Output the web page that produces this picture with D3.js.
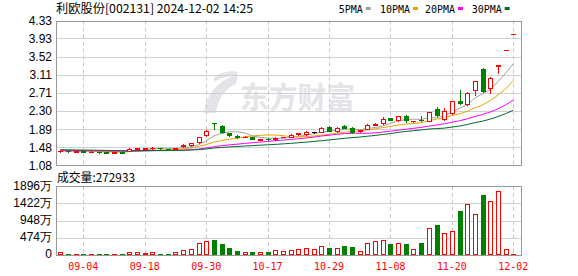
<!DOCTYPE html>
<html><head><meta charset="utf-8">
<script src="https://cdn.jsdelivr.net/npm/d3@7"></script>
<style>body{margin:0;background:#fff}svg{display:block}</style>
</head><body><svg id="c" width="578" height="276"></svg>
<script>
const dates = ["08-30","09-02","09-03","09-04","09-05","09-06","09-09","09-10","09-11","09-12","09-13","09-18","09-19","09-20","09-23","09-24","09-25","09-26","09-27","09-30",
"10-08","10-09","10-10","10-11","10-14","10-15","10-16","10-17","10-18","10-21","10-22","10-23","10-24","10-25","10-28","10-29","10-30","10-31","11-01",
"11-04","11-05","11-06","11-07","11-08","11-11","11-12","11-13","11-14","11-15","11-18","11-19","11-20","11-21","11-22","11-25","11-26","11-27","11-28","11-29","12-02"];
const opens  = [1.39,1.40,1.38,1.39,1.37,1.38,1.37,1.36,1.37,1.40,1.44,1.45,1.46,1.47,1.44,1.44,1.50,1.52,1.60,1.75,
2.03,1.96,1.79,1.74,1.71,1.71,1.65,1.67,1.66,1.71,1.72,1.78,1.77,1.82,1.83,1.94,1.85,1.96,1.91,
1.84,1.89,1.99,2.02,2.13,2.09,2.19,2.06,2.10,2.07,2.34,2.12,2.24,2.52,2.45,2.77,3.25,2.81,3.30,3.66,4.03];
const highs  = [1.41,1.40,1.40,1.39,1.39,1.38,1.38,1.38,1.37,1.46,1.47,1.47,1.48,1.47,1.45,1.47,1.55,1.58,1.71,1.87,
2.03,1.98,1.80,1.76,1.74,1.72,1.67,1.68,1.70,1.72,1.77,1.80,1.84,1.83,1.93,1.95,1.93,1.97,1.93,
1.87,2.00,2.03,2.15,2.14,2.19,2.20,2.08,2.18,2.28,2.39,2.37,2.52,2.77,2.72,2.97,3.26,3.05,3.33,3.66,4.03];
const lows   = [1.38,1.38,1.38,1.37,1.37,1.36,1.35,1.35,1.35,1.40,1.43,1.44,1.45,1.45,1.41,1.43,1.49,1.51,1.58,1.74,
1.90,1.80,1.73,1.69,1.70,1.66,1.64,1.65,1.65,1.70,1.71,1.76,1.76,1.79,1.82,1.84,1.83,1.91,1.81,
1.83,1.88,1.97,2.01,2.09,2.07,2.05,2.04,2.07,2.06,2.18,2.10,2.22,2.46,2.44,2.65,2.73,2.70,3.16,3.66,4.03];
const closes = [1.40,1.39,1.39,1.38,1.38,1.37,1.36,1.37,1.36,1.45,1.46,1.46,1.47,1.46,1.42,1.47,1.52,1.57,1.70,1.85,
2.02,1.82,1.75,1.70,1.72,1.67,1.67,1.66,1.68,1.72,1.76,1.79,1.82,1.82,1.92,1.85,1.91,1.92,1.83,
1.86,1.99,2.01,2.11,2.10,2.18,2.09,2.07,2.09,2.27,2.20,2.29,2.52,2.48,2.69,2.96,2.75,3.03,3.33,3.66,4.03];
// volume in 万
const volumes = [82,25,25,25,25,25,25,30,25,82,82,60,82,25,25,82,137,165,320,385,
412,302,192,110,73,82,73,91,137,110,137,157,184,157,239,192,192,239,220,
110,320,385,403,302,330,302,165,330,733,824,604,659,1209,1401,1127,1649,1484,1759,157,27.29];
// closes of the 29 sessions before the first shown one (seed the moving averages)
const priorCloses = [1.46,1.46,1.45,1.45,1.46,1.45,1.44,1.45,1.44,1.44,1.43,1.44,1.43,1.42,1.43,1.42,1.42,1.41,1.42,1.41,1.40,1.41,1.40,1.40,1.39,1.39,1.40,1.39,1.39];
const priceTicks = [1.08,1.48,1.89,2.30,2.71,3.11,3.52,3.93,4.33];
const volTicks = [0,474,948,1422,1896];
const volTickLabels = ["0","474万","948万","1422万","1896万"];
const xTickLabels = ["09-04","09-18","09-30","10-17","10-29","11-08","11-20","12-02"];
const maPeriods = [5,10,20,30];
const maNames = ["5PMA","10PMA","20PMA","30PMA"];
const maColors = ["#a0a0a0","#f0a000","#ff00ff","#006a30"];
const titleText = "利欧股份[002131] 2024-12-02 14:25";
const volTitle = "成交量:272933";

const RED="#ff0000", GREEN="#008000";
const svg = d3.select("#c");
const L=56, R=522, T1=20.5, B1=165, T2=186, B2=255;
const x = d3.scaleLinear().domain([0, dates.length-1]).range([60.3, 513.3]);
const y = d3.scaleLinear().domain([1.08,4.33]).range([B1,T1]);
const yv = d3.scaleLinear().domain([0,1896]).range([B2,T2]);
const px = v => Math.round(v)+0.5;

// watermark
const wm = svg.append("g").attr("fill","#e4e4e8");
wm.append("path").attr("d","M204,113 C206,95 218,80 238,74 L236,84 C226,88 218,98 216,113 Z");
wm.append("path").attr("d","M214,78 C220,72 230,70 238,72 L236,76 C228,76 220,78 214,82 Z");
wm.append("text").attr("x",240).attr("y",108).attr("font-family","Noto Sans CJK SC").attr("font-weight","bold")
  .attr("font-size",30).attr("textLength",115).attr("lengthAdjust","spacingAndGlyphs").text("东方财富");

// grids
const tickIdx = xTickLabels.map(l => dates.indexOf(l));
function grid(top, bottom, hvals, ys){
  svg.append("g").selectAll("line").data(hvals).join("line")
    .attr("x1",L).attr("x2",R).attr("y1",d=>px(ys(d))).attr("y2",d=>px(ys(d)))
    .attr("stroke","#d0d0d0");
  svg.append("g").selectAll("line").data(tickIdx).join("line")
    .attr("x1",d=>px(x(d))).attr("x2",d=>px(x(d))).attr("y1",top).attr("y2",bottom)
    .attr("stroke","#c8c8c8").attr("stroke-dasharray","4,3");
}
grid(T1,B1,priceTicks.slice(1,-1),y);
grid(T2,B2,volTicks.slice(1,-1),yv);

// MA lines
const allC = priorCloses.concat(closes);
const off = priorCloses.length;
maPeriods.forEach((n,k)=>{
  const ma = closes.map((c,i)=> d3.mean(allC.slice(off+i-n+1, off+i+1)));
  svg.append("path").attr("fill","none").attr("stroke",maColors[k]).attr("stroke-width",1)
    .attr("d", d3.line().x((d,i)=>x(i)).y(d=>y(d))(ma));
});

// candles
function col(i){
  const o=opens[i], c=closes[i];
  if(c>o) return RED; if(c<o) return GREEN;
  const pc = i>0?closes[i-1]:priorCloses[priorCloses.length-1];
  return c>pc?RED:(c<pc?GREEN:"#000");
}
const cg = svg.append("g");
dates.forEach((d,i)=>{
  const cx = Math.round(x(i)), cl = col(i);
  const yt = Math.round(y(Math.max(opens[i],closes[i]))), yb = Math.round(y(Math.min(opens[i],closes[i])));
  cg.append("line").attr("x1",cx+0.5).attr("x2",cx+0.5).attr("y1",Math.round(y(highs[i]))).attr("y2",Math.round(y(lows[i]))+1).attr("stroke",cl);
  if(yb-yt<1){
    cg.append("rect").attr("x",cx-2).attr("width",5).attr("y",yt).attr("height",1).attr("fill",cl);
  } else if(cl===RED){
    cg.append("rect").attr("x",cx-1.5).attr("width",4).attr("y",yt+0.5).attr("height",yb-yt).attr("fill","#fff").attr("stroke",RED);
  } else {
    cg.append("rect").attr("x",cx-2).attr("width",5).attr("y",yt).attr("height",yb-yt+1).attr("fill",cl);
  }
});

// volume bars
const vg = svg.append("g");
volumes.forEach((v,i)=>{
  const cx = Math.round(x(i)), cl = col(i)===GREEN?GREEN:RED;
  const yt = Math.round(yv(v));
  const h = Math.max(B2-yt,1);
  if(cl===RED && h>2){
    vg.append("rect").attr("x",cx-1.5).attr("width",4).attr("y",yt+0.5).attr("height",h-1).attr("fill","#fff").attr("stroke",RED);
  } else {
    vg.append("rect").attr("x",cx-2).attr("width",5).attr("y",B2-h).attr("height",h).attr("fill",cl);
  }
});

// frames
[[T1,B1],[T2,B2]].forEach(([t,b])=>{
  svg.append("rect").attr("x",L+0.5).attr("y",Math.round(t)+0.5).attr("width",R-L-1).attr("height",Math.round(b)-Math.round(t))
    .attr("fill","none").attr("stroke","#999");
});

// axes labels
const ax = svg.append("g").attr("transform",`translate(${L},0)`)
  .call(d3.axisLeft(y).tickValues(priceTicks).tickFormat(d3.format(".2f")).tickSize(0).tickPadding(4));
ax.select(".domain").remove();
ax.selectAll("text").attr("font-family","Liberation Sans, Arial").attr("font-size",12).attr("fill","#000")
  .attr("dy","0.35em");
const av = svg.append("g").attr("transform",`translate(${L},0)`)
  .call(d3.axisLeft(yv).tickValues(volTicks).tickFormat((d,i)=>volTickLabels[i]).tickSize(0).tickPadding(4));
av.select(".domain").remove();
av.selectAll("text").attr("font-family","Liberation Sans, Arial").attr("font-size",12).attr("fill","#000")
  .attr("dy",d=> d===0 ? "0.2em":"0.25em");

// x labels
svg.append("g").selectAll("text").data(xTickLabels).join("text")
  .attr("x",d=>x(dates.indexOf(d))).attr("y",270).attr("text-anchor","middle")
  .attr("font-family","DejaVu Sans Mono").attr("font-size",11).attr("fill",RED)
  .attr("textLength",30).attr("lengthAdjust","spacingAndGlyphs").text(d=>d);

// title
svg.append("text").attr("x",56).attr("y",13).attr("font-family","Noto Sans CJK SC, DejaVu Sans Mono").attr("font-size",12)
  .attr("textLength",197).attr("lengthAdjust","spacingAndGlyphs").text(titleText);
svg.append("text").attr("x",57).attr("y",182).attr("font-family","Noto Sans CJK SC, DejaVu Sans Mono").attr("font-size",12)
  .attr("textLength",78).attr("lengthAdjust","spacingAndGlyphs").text(volTitle);

// legend
const legX = [338.7,380,425,471.7];
maNames.forEach((n,k)=>{
  svg.append("text").attr("x",legX[k]).attr("y",13).attr("font-family","DejaVu Sans Mono").attr("font-size",11)
    .attr("textLength",n.length*6).attr("lengthAdjust","spacingAndGlyphs").text(n);
  svg.append("rect").attr("x",legX[k]+n.length*6+3).attr("y",7).attr("width",5).attr("height",3).attr("fill",maColors[k]);
});
</script></body></html>
